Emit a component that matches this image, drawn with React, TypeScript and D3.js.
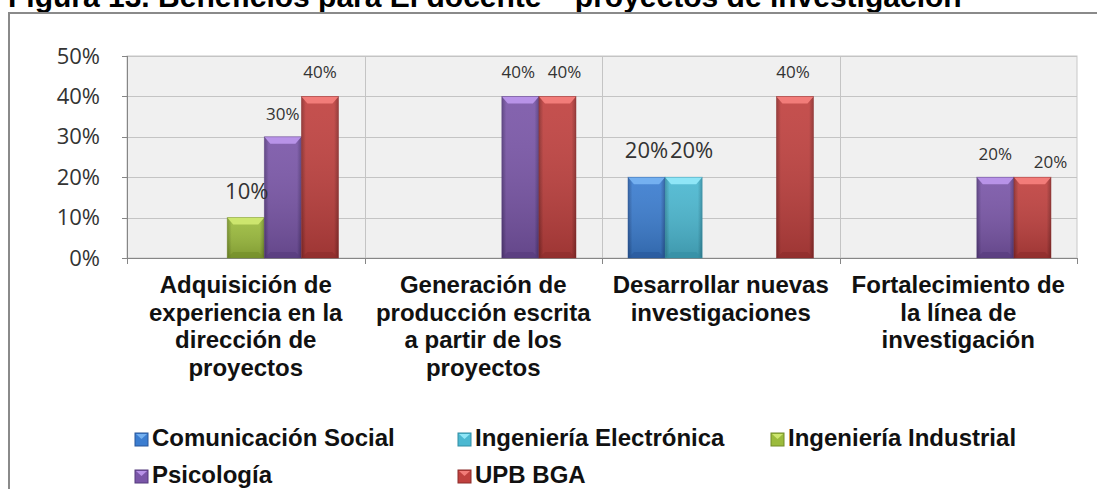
import React from "react";
import * as d3 from "d3";

const title = "Figura 13. Beneficios para El docente – proyectos de investigación";
const categories = [
  "Adquisición de experiencia en la dirección de proyectos",
  "Generación de producción escrita a partir de los proyectos",
  "Desarrollar nuevas investigaciones",
  "Fortalecimiento de la línea de investigación",
];
const categoryLines = [
  ["Adquisición de", "experiencia en la", "dirección de", "proyectos"],
  ["Generación de", "producción escrita", "a partir de los", "proyectos"],
  ["Desarrollar nuevas", "investigaciones"],
  ["Fortalecimiento de", "la línea de", "investigación"],
];
const seriesNames = [
  "Comunicación Social",
  "Ingeniería Electrónica",
  "Ingeniería Industrial",
  "Psicología",
  "UPB BGA",
];
const comunicacionSocial = [0, 0, 0.2, 0];
const ingenieriaElectronica = [0, 0, 0.2, 0];
const ingenieriaIndustrial = [0.1, 0, 0, 0];
const psicologia = [0.3, 0.4, 0, 0.2];
const upbBga = [0.4, 0.4, 0.4, 0.2];
const seriesValues = [comunicacionSocial, ingenieriaElectronica, ingenieriaIndustrial, psicologia, upbBga];
const yTicks = [0, 0.1, 0.2, 0.3, 0.4, 0.5];

// styling
const palette = [
  { base: "#3b7dd0", light: "#74b0f0", dark: "#28579a" },
  { base: "#4bb8d1", light: "#8fe6f7", dark: "#338ea4" },
  { base: "#9bbb3c", light: "#cde66e", dark: "#728c28" },
  { base: "#7a56a8", light: "#b893e8", dark: "#553a7c" },
  { base: "#c0413f", light: "#f27c79", dark: "#8c2c2b" },
];
// data-label tweaks (offset from bar center/top, font size) keyed "series-category"
const labelTweaks: Record<string, { dx: number; dy: number; size: number }> = {
  "2-0": { dx: 1, dy: -19, size: 22 },
  "3-0": { dx: 0, dy: -17, size: 17 },
  "4-0": { dx: 0, dy: -18, size: 17 },
  "3-1": { dx: -2, dy: -18, size: 17 },
  "4-1": { dx: 7, dy: -18, size: 17 },
  "0-2": { dx: 0, dy: -19, size: 22 },
  "1-2": { dx: 8, dy: -19, size: 22 },
  "4-2": { dx: -2, dy: -18, size: 17 },
  "3-3": { dx: 0, dy: -17, size: 17 },
  "4-3": { dx: 18, dy: -9, size: 17 },
};
const legendCols = [135, 458, 771];
const legendRows = [446, 483];

export default function App() {
  const W = 1097, H = 489;
  const left = 127, right = 1077, top = 56, bottom = 258;
  const x0 = d3.scaleBand<string>().domain(categories).range([left, right]).paddingInner(0).paddingOuter(0);
  const x1 = d3.scaleBand<string>().domain(seriesNames).range([0, x0.bandwidth()]).paddingInner(0).paddingOuter(0.7);
  const y = d3.scaleLinear().domain([0, 0.5]).range([bottom, top]);
  const pct = d3.format(".0%");
  const axisFont = "'Open Sans', sans-serif";
  const boldFont = "'Liberation Sans', Arial, sans-serif";

  return (
    <svg width={W} height={H} style={{ position: "absolute", left: 0, top: 0, background: "#fff" }}>
      <defs>
        {palette.map((p, i) => (
          <linearGradient key={i} id={`g${i}`} x1="0" x2="1" y1="0" y2="0">
            <stop offset="0" stopColor={p.dark} />
            <stop offset="0.12" stopColor={p.base} />
            <stop offset="0.45" stopColor={p.base} />
            <stop offset="0.88" stopColor={p.base} />
            <stop offset="1" stopColor={p.dark} />
          </linearGradient>
        ))}
        {palette.map((p, i) => (
          <linearGradient key={"v" + i} id={`v${i}`} x1="0" x2="0" y1="0" y2="1">
            <stop offset="0" stopColor="#fff" stopOpacity={0.08} />
            <stop offset="1" stopColor="#000" stopOpacity={0.18} />
          </linearGradient>
        ))}
      </defs>
      {/* title */}
      <text x={8} y={7} fontFamily={boldFont} fontWeight="bold" fontSize={30} fill="#000">{title}</text>
      {/* outer frame */}
      <rect x={9} y={13} width={W} height={H} fill="#fff" stroke="#8a8a8a" strokeWidth={2} />
      {/* plot area */}
      <rect x={left} y={top} width={right - left} height={bottom - top} fill="#f0f0f0" stroke="#c8c8c8" strokeWidth={1} />
      {yTicks.map((t) => (
        <line key={t} x1={left} x2={right} y1={Math.round(y(t)) + 0.5} y2={Math.round(y(t)) + 0.5} stroke="#c4c4c4" />
      ))}
      {categories.map((c, i) => i > 0 && (
        <line key={c} x1={Math.round(x0(c)!) + 0.5} x2={Math.round(x0(c)!) + 0.5} y1={top} y2={bottom} stroke="#c4c4c4" />
      ))}
      {/* axes */}
      <line x1={left + 0.5} x2={left + 0.5} y1={top} y2={bottom} stroke="#868686" />
      <line x1={left} x2={right} y1={bottom + 0.5} y2={bottom + 0.5} stroke="#868686" />
      {yTicks.map((t) => (
        <g key={"t" + t}>
          <line x1={left - 5} x2={left} y1={Math.round(y(t)) + 0.5} y2={Math.round(y(t)) + 0.5} stroke="#868686" />
          <text x={100} y={y(t) + 7.5} textAnchor="end" fontFamily={axisFont} fontSize={22} fill="#333">{pct(t)}</text>
        </g>
      ))}
      {[...categories.map((c) => x0(c)!), right].map((xv, i) => (
        <line key={"xt" + i} x1={Math.round(xv) + 0.5} x2={Math.round(xv) + 0.5} y1={bottom} y2={bottom + 6} stroke="#868686" />
      ))}
      {/* bars */}
      {seriesNames.map((s, si) =>
        categories.map((c, ci) => {
          const v = seriesValues[si][ci];
          if (!v) return null;
          const bx = x0(c)! + x1(s)!;
          const bw = x1.bandwidth();
          const by = y(v);
          const bh = bottom - by;
          const p = palette[si];
          const bev = 6;
          return (
            <g key={s + c}>
              <rect x={bx} y={by} width={bw} height={bh} fill={`url(#g${si})`} />
              <rect x={bx} y={by} width={bw} height={bh} fill={`url(#v${si})`} />
              <polygon points={`${bx},${by} ${bx + bw},${by} ${bx + bw - bev},${by + bev + 1} ${bx + bev},${by + bev + 1}`} fill={p.light} />
              <polygon points={`${bx},${bottom} ${bx + bw},${bottom} ${bx + bw - bev},${bottom - bev} ${bx + bev},${bottom - bev}`} fill={p.dark} opacity={0.6} />
              <rect x={bx} y={by} width={bw} height={bh} fill="none" stroke={p.dark} strokeOpacity={0.5} strokeWidth={0.8} />
            </g>
          );
        })
      )}
      {/* data labels */}
      {seriesNames.map((s, si) =>
        categories.map((c, ci) => {
          const v = seriesValues[si][ci];
          if (!v) return null;
          const tw = labelTweaks[`${si}-${ci}`] || { dx: 0, dy: -18, size: 17 };
          const cx = x0(c)! + x1(s)! + x1.bandwidth() / 2;
          return (
            <text key={"l" + s + c} x={cx + tw.dx} y={y(v) + tw.dy} textAnchor="middle" fontFamily={axisFont} fontSize={tw.size} fill="#333">{pct(v)}</text>
          );
        })
      )}
      {/* category labels */}
      {categories.map((c, ci) => (
        <text key={"c" + c} fontFamily={boldFont} fontWeight="bold" fontSize={24} fill="#111" textAnchor="middle">
          {categoryLines[ci].map((ln, li) => (
            <tspan key={li} x={x0(c)! + x0.bandwidth() / 2} y={293 + li * 27.7}>{ln}</tspan>
          ))}
        </text>
      ))}
      {/* legend */}
      {seriesNames.map((s, si) => {
        const col = si < 3 ? si : si - 3;
        const row = si < 3 ? 0 : 1;
        const lx = legendCols[col];
        const ly = legendRows[row];
        const p = palette[si];
        return (
          <g key={"lg" + s}>
            <rect x={lx} y={ly - 13} width={13} height={13} fill={p.base} stroke={p.dark} strokeWidth={1} />
            <polygon points={`${lx + 1},${ly - 12} ${lx + 12},${ly - 12} ${lx + 6.5},${ly - 7}`} fill={p.light} />
            <text x={lx + 17} y={ly} fontFamily={boldFont} fontWeight="bold" fontSize={24} fill="#111">{s}</text>
          </g>
        );
      })}
    </svg>
  );
}
